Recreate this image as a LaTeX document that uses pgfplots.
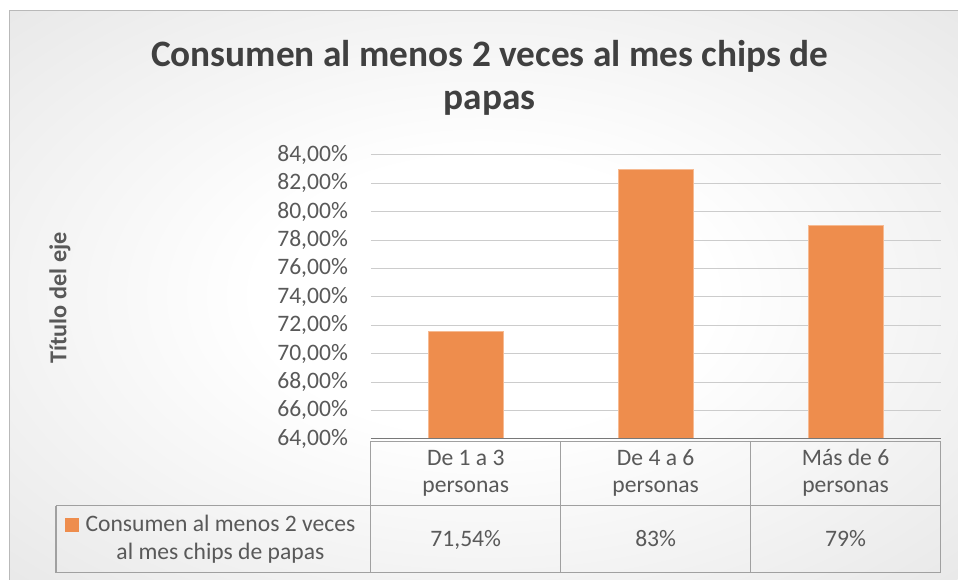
\documentclass[border=0pt]{standalone}
\usepackage{pgfplots}
\pgfplotsset{compat=1.18}
\usepackage{fontspec}
\setmainfont{Carlito}
\definecolor{bgout}{RGB}{198,198,198}
\definecolor{txt}{RGB}{89,89,89}
\definecolor{ttl}{RGB}{64,64,64}
\definecolor{barc}{RGB}{238,141,77}
\definecolor{baredge}{RGB}{246,186,146}
\definecolor{gridc}{RGB}{204,204,204}
\definecolor{tabc}{RGB}{160,160,160}
\definecolor{axc}{RGB}{120,120,120}
\definecolor{framec}{RGB}{185,185,185}
\pgfdeclareradialshading{bgshade}{\pgfpoint{0bp}{0bp}}{color(0bp)=(white); color(12bp)=(white); color(72bp)=(bgout); color(100bp)=(bgout)}
\newcommand{\fs}{\fontsize{17.7}{20.25}\selectfont}
\begin{document}
\begin{tikzpicture}
\path[fill=white] (0,0) rectangle (718.5pt,435pt);
\shade[shading=bgshade] (7.5pt,0) rectangle (718.5pt,426.75pt);
\draw[framec, line width=0.75pt] (7.5pt,0) -- (7.5pt,426.75pt) -- (718.5pt,426.75pt);
\node[anchor=base, font=\fontsize{28}{33}\selectfont\bfseries, text=ttl] at (367.5pt,384.75pt) {Consumen al menos 2 veces al mes chips de};
\node[anchor=base, font=\fontsize{28}{33}\selectfont\bfseries, text=ttl] at (367.5pt,352.5pt) {papas};
\node[rotate=90, font=\fontsize{18.2}{21}\selectfont\bfseries, text=txt] at (45pt,211.5pt) {Título del eje};
\begin{axis}[
  at={(278.25pt,105.75pt)}, anchor=south west,
  scale only axis, width=427.5pt, height=213pt,
  xmin=-0.5, xmax=2.5, ymin=64, ymax=84,
  clip=false,
  axis line style={draw=none},
  major tick length=0pt,
  ymajorgrids, grid style={gridc, line width=0.75pt},
  ytick={64,66,68,70,72,74,76,78,80,82,84},
  yticklabels={{64,00\%},{66,00\%},{68,00\%},{70,00\%},{72,00\%},{74,00\%},{76,00\%},{78,00\%},{80,00\%},{82,00\%},{84,00\%}},
  yticklabel style={font=\fs, text=txt, inner sep=0pt, anchor=east, xshift=-17pt},
  xtick={0,1,2},
  xticklabels={{\strut De 1 a 3\\personas},{\strut De 4 a 6\\personas},{\strut Más de 6\\personas}},
  xticklabel style={align=center, font=\fs, text=txt, inner sep=0pt, anchor=north, yshift=-6pt},
]
\addplot[ybar, bar width=56.25pt, fill=barc, draw=baredge, line width=0.6pt] coordinates {(0,71.54) (1,83) (2,79)};
\node[anchor=base, font=\fs, text=txt] at (axis cs:0,56.39) {71,54\%};
\node[anchor=base, font=\fs, text=txt] at (axis cs:1,56.39) {83\%};
\node[anchor=base, font=\fs, text=txt] at (axis cs:2,56.39) {79\%};
\end{axis}
\draw[axc, line width=0.9pt] (278.25pt,105.75pt) -- (705.75pt,105.75pt);
\draw[tabc, line width=0.9pt] (278.25pt,104pt) -- (705.75pt,104pt);
\draw[tabc, line width=0.9pt] (42pt,55.5pt) -- (705.75pt,55.5pt);
\draw[tabc, line width=0.9pt] (42pt,5.25pt) -- (705.75pt,5.25pt);
\draw[tabc, line width=0.9pt] (42pt,55.5pt) -- (42pt,5.25pt);
\foreach \xx in {278.25,420.75,563.25,705.75} {\draw[tabc, line width=0.9pt] (\xx pt,104pt) -- (\xx pt,5.25pt);}
\fill[barc] (48.75pt,36pt) rectangle (59.25pt,46.5pt);
\node[anchor=base, font=\fs, text=txt] at (165.4pt,36pt) {Consumen al menos 2 veces};
\node[anchor=base, font=\fs, text=txt] at (165.4pt,15pt) {al mes chips de papas};
\end{tikzpicture}
\end{document}
